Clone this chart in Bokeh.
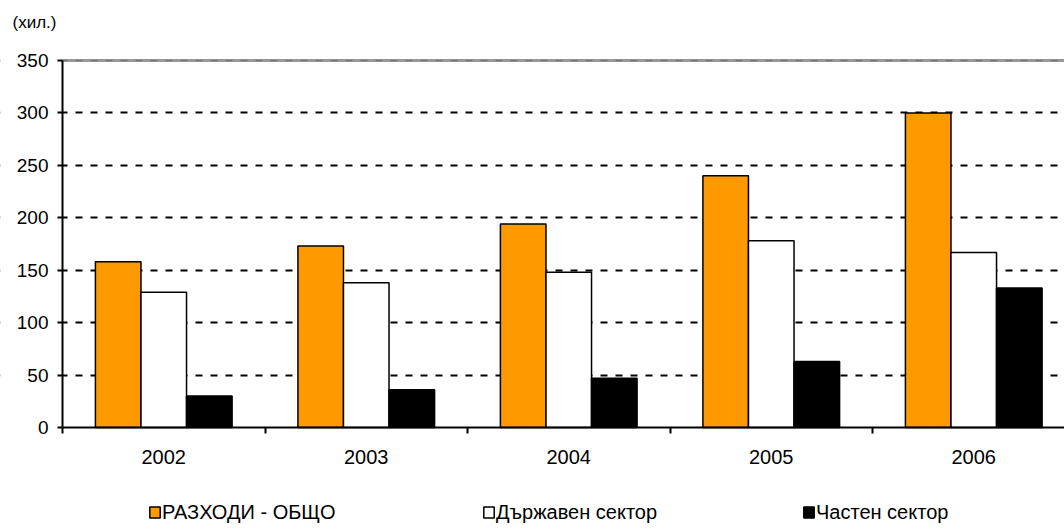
from bokeh.plotting import figure
from bokeh.models import (Range1d, FixedTicker, Span, Legend, LegendItem, ColumnDataSource,
                          LinearAxis, Grid, BoxAnnotation, Label)
from bokeh.embed import file_html
from bokeh.resources import INLINE

years = ["2002", "2003", "2004", "2005", "2006"]
total = [158, 173, 194, 240, 300]
public = [129, 138, 148, 178, 167]
private = [30, 36, 47, 63, 133]
series_names = ["РАЗХОДИ - ОБЩО", "Държавен сектор", "Частен сектор"]
colors = ["#FF9900", "#FFFFFF", "#000000"]
y_ticks = [0, 50, 100, 150, 200, 250, 300, 350]
unit_text = "(хил.)"

FONT = "Liberation Sans"
W, H = 1064, 529
X0_PX, Y0_PX = 62, 427          # pixel position of the origin (x=0, y=0)
PX_PER_CAT = 202.5
PX_PER_UNIT = 367 / 350.0
n = len(years)

p = figure(frame_width=W, frame_height=H, min_border=0,
           x_range=Range1d(-X0_PX / PX_PER_CAT, (W - X0_PX) / PX_PER_CAT),
           y_range=Range1d(-(H - Y0_PX) / PX_PER_UNIT, Y0_PX / PX_PER_UNIT),
           x_axis_location=None, y_axis_location=None,
           output_backend="svg", toolbar_location=None)
p.outline_line_color = None
p.background_fill_color = "white"
p.border_fill_color = "white"
p.xgrid.visible = False
p.ygrid.visible = False

# dashed grid
grid = Grid(dimension=1, ticker=FixedTicker(ticks=y_ticks[1:-1]),
            grid_line_color="black", grid_line_dash="7 8", grid_line_width=2, level="underlay")
p.add_layout(grid)
top_line = Span(location=y_ticks[-1], dimension="width", line_color="#999999", line_width=3,
                level="underlay")
p.add_layout(top_line)
top_dash = Span(location=y_ticks[-1], dimension="width", line_color="#777777", line_width=1.5,
                line_dash="7 8", level="underlay")
p.add_layout(top_dash)
# blank the area left of the y axis
p.add_layout(BoxAnnotation(right=0, fill_color="white", fill_alpha=1, line_color=None,
                           level="underlay"))

centers = [i + 0.5 for i in range(n)]
bw = 0.225
renderers = []
for k, (vals, col) in enumerate(zip([total, public, private], colors)):
    src = ColumnDataSource(dict(x=[c + (k - 1) * bw for c in centers], top=vals))
    r = p.vbar(x="x", top="top", width=bw, bottom=0, source=src,
               fill_color=col, line_color="black", line_width=1.5)
    renderers.append(r)

# y axis at x = 0
yaxis = LinearAxis(fixed_location=0, bounds=(0, y_ticks[-1]))
yaxis.ticker = FixedTicker(ticks=y_ticks)
yaxis.axis_line_color = "black"
yaxis.axis_line_width = 2
yaxis.major_tick_line_width = 2
yaxis.major_tick_out = 5
yaxis.major_tick_in = 0
yaxis.minor_tick_line_color = None
yaxis.major_label_text_font = FONT
yaxis.major_label_text_font_size = "19px"
yaxis.major_label_text_color = "black"
yaxis.major_label_standoff = 9
p.add_layout(yaxis, "left")

# x axis at y = 0
xaxis = LinearAxis(fixed_location=0, bounds=(0, n))
xaxis.ticker = FixedTicker(ticks=centers, minor_ticks=list(range(n + 1)))
xaxis.major_label_overrides = {c: y for c, y in zip(centers, years)}
xaxis.axis_line_color = "black"
xaxis.axis_line_width = 2
xaxis.major_tick_line_color = None
xaxis.major_tick_out = 6
xaxis.minor_tick_line_color = "black"
xaxis.minor_tick_line_width = 2
xaxis.minor_tick_out = 6
xaxis.minor_tick_in = 0
xaxis.major_label_text_font = FONT
xaxis.major_label_text_font_size = "20px"
xaxis.major_label_text_color = "black"
xaxis.major_label_standoff = 16
p.add_layout(xaxis, "below")

unit = Label(x=-50 / PX_PER_CAT, y=(Y0_PX - 22) / PX_PER_UNIT, text=unit_text,
             text_font=FONT, text_font_size="17px", text_color="black",
             text_baseline="middle", text_align="left")
p.add_layout(unit)

legend_x = [148, 482, 802]
for name, r, lx in zip(series_names, renderers, legend_x):
    lg = Legend(items=[LegendItem(label=name, renderers=[r])],
                location=(lx, 5), orientation="horizontal",
                glyph_width=13, glyph_height=14, label_standoff=1,
                label_text_font=FONT, label_text_font_size="20px",
                label_text_color="black", label_height=24,
                border_line_color=None, background_fill_alpha=0, padding=0, margin=0)
    p.add_layout(lg)

open("out.html", "w").write(file_html(p, INLINE))
